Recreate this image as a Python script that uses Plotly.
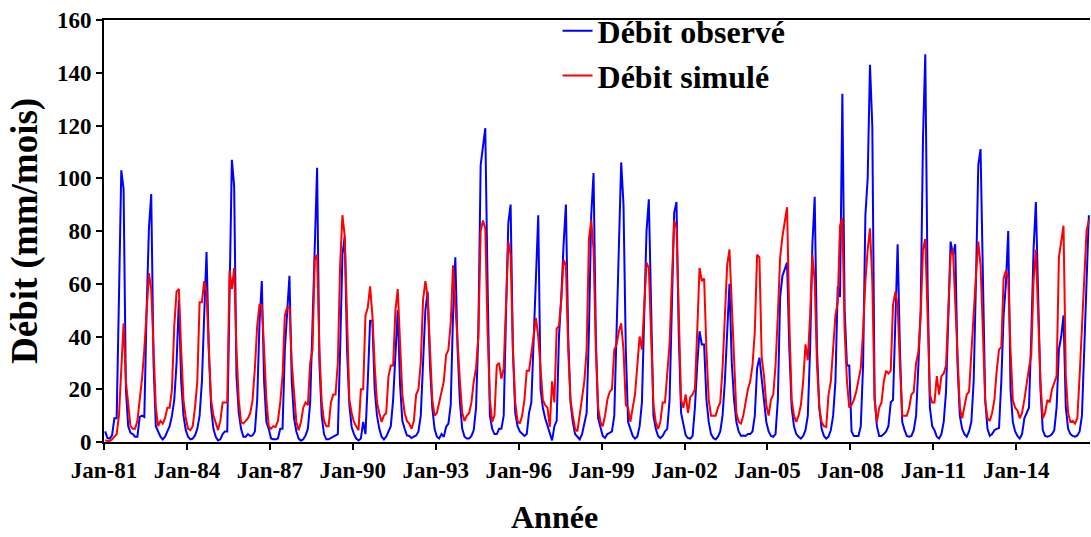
import plotly.graph_objects as go

# Monthly series, Jan-1981 .. Aug-2016 (one list per year)
observe_by_year = [
    [4, 1.5, 1.3, 2.5, 9, 9, 55, 103, 96, 20, 6, 3.5],          # 1981
    [3, 2, 2, 9.5, 10, 9.5, 50, 81, 94, 30, 6, 4],               # 1982
    [2, 1, 2, 4, 6, 10, 16, 30, 54, 23, 10, 4.5],                # 1983
    [2, 1, 1.3, 2.5, 5, 10, 23, 48, 72, 35, 13, 5],              # 1984
    [2, 0.6, 1, 3, 4, 4, 55, 107, 97, 25, 11, 5],                # 1985
    [2, 2, 3, 2.3, 2.5, 4, 16, 45, 61, 23, 7.6, 5],              # 1986
    [1.3, 1, 1, 1.3, 5, 5, 35, 50, 63, 23, 9, 4],                # 1987
    [1.3, 0.5, 1, 2.5, 5, 15, 48, 80, 104, 30, 10, 3],           # 1988
    [1, 1, 1.5, 2, 2.5, 3, 35, 71, 78, 35, 14, 5.7],             # 1989
    [3, 1.3, 0.6, 1.3, 7.6, 3, 23, 46, 46, 20, 10, 5],           # 1990
    [2, 1, 2, 4, 6, 16, 35, 50, 22, 8, 5, 2.5],                  # 1991
    [2.3, 1.5, 2, 2.5, 4, 10, 30, 50, 57, 29, 13, 5],            # 1992
    [2, 1.3, 3, 2, 5.7, 7, 14, 48, 70, 35, 15, 5],               # 1993
    [2, 1.3, 1.3, 2.3, 4.5, 13, 42, 105, 112, 119, 60, 10],      # 1994
    [5, 3, 3, 5, 5, 10, 48, 83, 90, 35, 11, 6],                  # 1995
    [4, 3, 2.3, 3, 11, 15, 40, 60, 86, 20, 13, 9],               # 1996
    [6, 4, 0.6, 6, 8, 40, 55, 75, 90, 40, 15, 7.6],              # 1997
    [3, 2, 1, 3, 7.6, 11, 42, 86, 102, 40, 9, 5],                # 1998
    [2.3, 1.5, 3, 3.5, 4, 10, 40, 75, 106, 90, 35, 7.6],         # 1999
    [5, 2.3, 1.3, 2, 6, 15, 48, 80, 92, 48, 10, 5],              # 2000
    [2.3, 1.5, 2.3, 4, 5, 16, 48, 87, 91, 40, 11, 6],            # 2001
    [2.5, 1.5, 1.3, 2.3, 13, 29, 42, 37, 37, 16, 7.6, 3],        # 2002
    [1.5, 1, 2, 4, 10, 23, 45, 60, 30, 16, 7.6, 4],              # 2003
    [2.3, 2.5, 2.3, 3, 3, 4, 10, 28, 32, 23, 15, 7.6],           # 2004
    [4, 2.3, 2, 3, 16, 55, 63, 66, 68, 35, 13, 6],               # 2005
    [3, 2, 1.3, 2.3, 4.5, 10, 35, 75, 93, 35, 13, 5],            # 2006
    [2.3, 1.3, 2, 4.5, 10, 23, 59, 55, 132, 50, 29, 29],         # 2007
    [4, 2.3, 2.3, 2.3, 6, 29, 86, 100, 143, 120, 17, 6],         # 2008
    [2.3, 2.3, 3, 4, 6, 15, 16, 48, 75, 35, 7.6, 4.5],           # 2009
    [2.3, 2, 2.3, 4.5, 10, 29, 50, 115, 147, 60, 13, 6],         # 2010
    [4.5, 2, 1.3, 3, 7.6, 19, 48, 76, 71, 75, 29, 10],           # 2011
    [5, 3, 2, 4, 7.6, 23, 61, 105, 111, 61, 16, 5],              # 2012
    [2.3, 3, 4.5, 5, 5.3, 23, 48, 60, 80, 20, 7.6, 4],           # 2013
    [2.3, 1.3, 3, 9, 11, 13, 40, 73, 91, 55, 20, 4.5],           # 2014
    [2.3, 2, 2.3, 3, 4.5, 13, 35, 40, 48, 13, 5, 3],             # 2015
    [2.3, 2, 2.5, 4, 10, 35, 61, 86],                            # 2016
]

simule_by_year = [
    [0.6, 0.3, 0.3, 1, 2, 3, 10, 30, 45, 23, 13, 6],             # 1981
    [5, 5, 8, 16, 24, 35, 51, 64, 58, 35, 13, 6],                # 1982
    [8, 7, 9, 13, 13, 20, 44, 57, 58, 35, 16, 9],                # 1983
    [5, 4.5, 6, 13, 23, 53, 53, 61, 57, 35, 16, 10],             # 1984
    [7, 4.5, 8, 15, 15, 15, 65, 58, 66, 35, 16, 7.6],            # 1985
    [7, 8, 9, 11, 16, 28, 44, 52, 52, 35, 16, 6],                # 1986
    [5, 6, 5.7, 8, 15, 25, 48, 51, 51, 30, 18, 7.6],             # 1987
    [4.5, 7.6, 13, 15, 14, 30, 35, 69, 71, 35, 15, 8],           # 1988
    [6, 6, 15, 18, 18, 30, 67, 86, 78, 45, 16, 11],              # 1989
    [7.6, 6, 4.5, 20, 20, 48, 51, 59, 48, 29, 15, 11],           # 1990
    [7.6, 10, 11, 25, 29, 29, 50, 58, 40, 18, 11, 8],            # 1991
    [7, 5, 8, 18, 20, 30, 54, 61, 55, 33, 16, 10],               # 1992
    [11, 15, 19, 23, 33, 35, 45, 67, 52, 35, 23, 11],            # 1993
    [8, 10, 11, 15, 23, 28, 40, 80, 84, 81, 42, 16],             # 1994
    [7.6, 10, 29, 30, 24, 28, 54, 76, 71, 35, 15, 8],            # 1995
    [7, 10, 16, 27, 27, 33, 40, 47, 40, 28, 16, 14],             # 1996
    [13, 5.7, 23, 15, 43, 44, 54, 69, 67, 35, 16, 10],           # 1997
    [5, 4, 10, 16, 23, 35, 77, 84, 73, 35, 13, 7.6],             # 1998
    [6, 10, 16, 19, 20, 35, 37, 42, 45, 35, 14, 13],             # 1999
    [7.6, 13, 18, 29, 40, 35, 54, 68, 66, 35, 14, 7.6],          # 2000
    [5, 7.6, 15, 15, 28, 37, 61, 84, 81, 48, 16, 13],            # 2001
    [18, 11, 17, 18, 20, 42, 66, 61, 62, 35, 16, 10],            # 2002
    [10, 10, 13, 15, 28, 48, 67, 73, 54, 29, 11, 7.6],           # 2003
    [7, 10, 15, 20, 23, 29, 42, 71, 70, 32, 25, 14],             # 2004
    [10, 16, 18, 29, 48, 70, 78, 84, 89, 45, 16, 10],            # 2005
    [7.6, 10, 14, 23, 37, 31, 48, 71, 61, 29, 13, 7.6],          # 2006
    [6, 5.7, 18, 23, 35, 48, 53, 82, 85, 42, 23, 13],            # 2007
    [14, 16, 19, 24, 28, 42, 61, 73, 81, 61, 16, 7.6],           # 2008
    [13, 15, 23, 27, 26, 27, 52, 57, 52, 29, 10, 10],            # 2009
    [10, 13, 18, 19, 30, 34, 48, 73, 77, 48, 18, 15],            # 2010
    [15, 25, 18, 25, 26, 29, 48, 71, 73, 54, 29, 13],            # 2011
    [9, 13, 18, 19, 35, 48, 63, 76, 67, 42, 16, 9],              # 2012
    [8, 11, 16, 27, 35, 36, 62, 65, 62, 35, 16, 13],             # 2013
    [12, 9, 11, 16, 23, 28, 33, 61, 73, 48, 23, 9],              # 2014
    [11, 16, 15, 20, 23, 25, 70, 77, 82, 25, 11, 7.6],           # 2015
    [8, 7, 9, 25, 42, 61, 80, 84],                               # 2016
]

tick_labels = ["Jan-81", "Jan-84", "Jan-87", "Jan-90", "Jan-93", "Jan-96",
               "Jan-99", "Jan-02", "Jan-05", "Jan-08", "Jan-11", "Jan-14"]

observe = [v for yr in observe_by_year for v in yr]
simule = [v for yr in simule_by_year for v in yr]
months = list(range(len(observe)))
tick_vals = [36 * k - 0.5 for k in range(len(tick_labels))]

FONT = "Liberation Serif"

fig = go.Figure()
fig.add_trace(go.Scatter(x=months, y=observe, mode="lines", name="<b>Débit observé</b>",
                         line=dict(color="#0000FF", width=2)))
fig.add_trace(go.Scatter(x=months, y=simule, mode="lines", name="<b>Débit simulé</b>",
                         line=dict(color="#FF0000", width=2)))

fig.update_layout(
    width=1091, height=537,
    margin=dict(l=104, r=1, t=20, b=95),
    paper_bgcolor="white", plot_bgcolor="white",
    font=dict(family=FONT, color="black"),
    showlegend=True,
    legend=dict(x=0.460, y=1.039, xanchor="left", yanchor="top",
                font=dict(family=FONT, size=32, color="black"),
                bgcolor="rgba(0,0,0,0)", tracegroupgap=0),
    xaxis=dict(range=[-0.5, 427.5], tickvals=tick_vals, ticktext=["<b>%s</b>" % t for t in tick_labels],
               showline=True, linecolor="black", linewidth=2, mirror=True,
               ticks="outside", ticklen=6, tickwidth=2, tickcolor="black",
               showgrid=False, zeroline=False,
               tickfont=dict(family=FONT, size=23, color="black")),
    yaxis=dict(range=[0, 160], tickvals=list(range(0, 161, 20)),
               ticktext=["<b>%d</b>" % v for v in range(0, 161, 20)],
               showline=True, linecolor="black", linewidth=2,
               ticks="outside", ticklen=6, tickwidth=2, tickcolor="black",
               showgrid=False, zeroline=False,
               tickfont=dict(family=FONT, size=23, color="black")),
    annotations=[
        dict(text="<b>Débit (mm/mois)</b>", xref="paper", yref="paper",
             x=(25 - 104) / 986, y=0.50,
             xanchor="center", yanchor="middle",
             textangle=-90, showarrow=False, font=dict(family=FONT, size=37, color="black")),
        dict(text="<b>Année</b>", xref="paper", yref="paper", x=(554 - 104) / 986, y=-0.225,
             xanchor="center", yanchor="bottom",
             showarrow=False, font=dict(family=FONT, size=32, color="black")),
    ],
)

fig.write_html("out.html", config={"displayModeBar": False},
               post_script="document.body.style.margin='0px';")
